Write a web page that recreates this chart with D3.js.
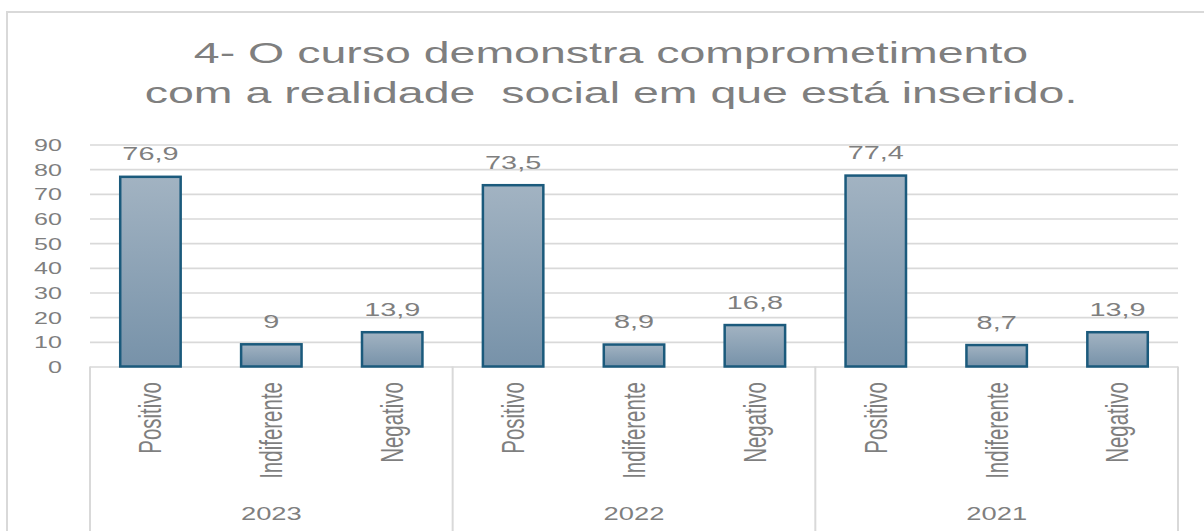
<!DOCTYPE html>
<html>
<head>
<meta charset="utf-8">
<script src="https://cdn.jsdelivr.net/npm/d3@7"></script>
<style>
  body { margin: 0; background: #fff; }
  text { font-family: "Liberation Sans", Arial, sans-serif; fill: #7f7f7f; }
</style>
</head>
<body>
<svg id="drawing_region"></svg>
<script>
const years = ['2023', '2022', '2021'];
const categories = ['Positivo', 'Indiferente', 'Negativo'];
const values2023 = [76.9, 9, 13.9];
const values2022 = [73.5, 8.9, 16.8];
const values2021 = [77.4, 8.7, 13.9];
const yTicks = [0, 10, 20, 30, 40, 50, 60, 70, 80, 90];
const titleLines = ['4- O curso demonstra comprometimento', 'com a realidade  social em que está inserido.'];

const data = [];
[values2023, values2022, values2021].forEach((vals, i) => {
    vals.forEach((v, j) => data.push({ year: years[i], cat: categories[j], value: v }));
});

const config = {
    width: 1204,
    height: 531,
    margin: { top: 144.5, left: 90, right: 26, bottom: 164.5 },
    stretch: 1.52   // the source picture is stretched sideways
};

const svg = d3.select('#drawing_region')
    .attr('width', config.width)
    .attr('height', config.height);

const inner_width = config.width - config.margin.left - config.margin.right;
const inner_height = config.height - config.margin.top - config.margin.bottom;

// outer frame
svg.append('rect')
    .attr('x', 7).attr('y', 12)
    .attr('width', 1220).attr('height', 540)
    .attr('fill', 'none')
    .attr('stroke', '#d9d9d9')
    .attr('stroke-width', 2);

// title
svg.selectAll('.title')
    .data(titleLines)
    .enter()
    .append('text')
    .attr('class', 'title')
    .attr('text-anchor', 'middle')
    .attr('transform', (d, i) => `translate(611, ${63 + i * 40}) scale(1.55,1)`)
    .style('font-size', '30px')
    .style('white-space', 'pre')
    .text(d => d);

const defs = svg.append('defs');
const grad = defs.append('linearGradient')
    .attr('id', 'barfill')
    .attr('x1', 0).attr('y1', 0).attr('x2', 0).attr('y2', 1);
grad.append('stop').attr('offset', '0%').attr('stop-color', '#a2b3c2');
grad.append('stop').attr('offset', '100%').attr('stop-color', '#7792a9');

const chart = svg.append('g')
    .attr('transform', `translate(${config.margin.left}, ${config.margin.top})`);

const yscale = d3.scaleLinear()
    .domain([0, 90])
    .range([inner_height, 0]);

const xouter = d3.scaleBand()
    .domain(years)
    .range([0, inner_width])
    .padding(0);

const xinner = d3.scaleBand()
    .domain(categories)
    .range([0, xouter.bandwidth()])
    .paddingInner(0.5)
    .paddingOuter(0.25);

// y axis + grid
const yaxis = d3.axisLeft(yscale)
    .tickValues(yTicks)
    .tickSizeInner(-inner_width)
    .tickSizeOuter(0)
    .tickPadding(28);

const yaxis_group = chart.append('g').call(yaxis);
yaxis_group.select('.domain').remove();
yaxis_group.selectAll('.tick line')
    .attr('stroke', '#d9d9d9')
    .attr('stroke-width', 1.6);
yaxis_group.selectAll('.tick text')
    .attr('x', null)
    .attr('dy', '0.36em')
    .attr('transform', `translate(-28,0) scale(${config.stretch},1)`)
    .attr('fill', '#7f7f7f')
    .style('font-size', '16.5px')
    .style('font-family', '"Liberation Sans", Arial, sans-serif');

// category axis frame
const axis_bottom = config.height - config.margin.top + 10;
chart.selectAll('.sep')
    .data(years.map(y => xouter(y)).concat([inner_width]))
    .enter()
    .append('line')
    .attr('class', 'sep')
    .attr('x1', d => d).attr('x2', d => d)
    .attr('y1', inner_height).attr('y2', axis_bottom)
    .attr('stroke', '#d9d9d9')
    .attr('stroke-width', 2);

// bars
const groups = chart.selectAll('.year')
    .data(years)
    .enter()
    .append('g')
    .attr('class', 'year')
    .attr('transform', d => `translate(${xouter(d)},0)`);

groups.selectAll('rect')
    .data(y => data.filter(d => d.year === y))
    .enter()
    .append('rect')
    .attr('x', d => xinner(d.cat))
    .attr('y', d => yscale(d.value))
    .attr('width', xinner.bandwidth())
    .attr('height', d => inner_height - yscale(d.value))
    .attr('fill', 'url(#barfill)')
    .attr('stroke', '#1b5a7c')
    .attr('stroke-width', 2.5);

groups.selectAll('.value')
    .data(y => data.filter(d => d.year === y))
    .enter()
    .append('text')
    .attr('class', 'value')
    .attr('text-anchor', 'middle')
    .attr('transform', d => `translate(${xinner(d.cat) + xinner.bandwidth() / 2}, ${yscale(d.value) - 16.5}) scale(${config.stretch},1)`)
    .style('font-size', '19px')
    .text(d => String(d.value).replace('.', ','));

groups.selectAll('.cat')
    .data(categories)
    .enter()
    .append('text')
    .attr('class', 'cat')
    .attr('text-anchor', 'end')
    .attr('dy', '0.35em')
    .attr('transform', d => `translate(${xinner(d) + xinner.bandwidth() / 2}, ${inner_height + 15.5}) scale(${config.stretch},1) rotate(-90)`)
    .style('font-size', '20.5px')
    .text(d => d);

groups.append('text')
    .attr('text-anchor', 'middle')
    .attr('transform', `translate(${xouter.bandwidth() / 2}, ${520 - config.margin.top}) scale(${config.stretch},1)`)
    .style('font-size', '18px')
    .text(d => d);
</script>
</body>
</html>
